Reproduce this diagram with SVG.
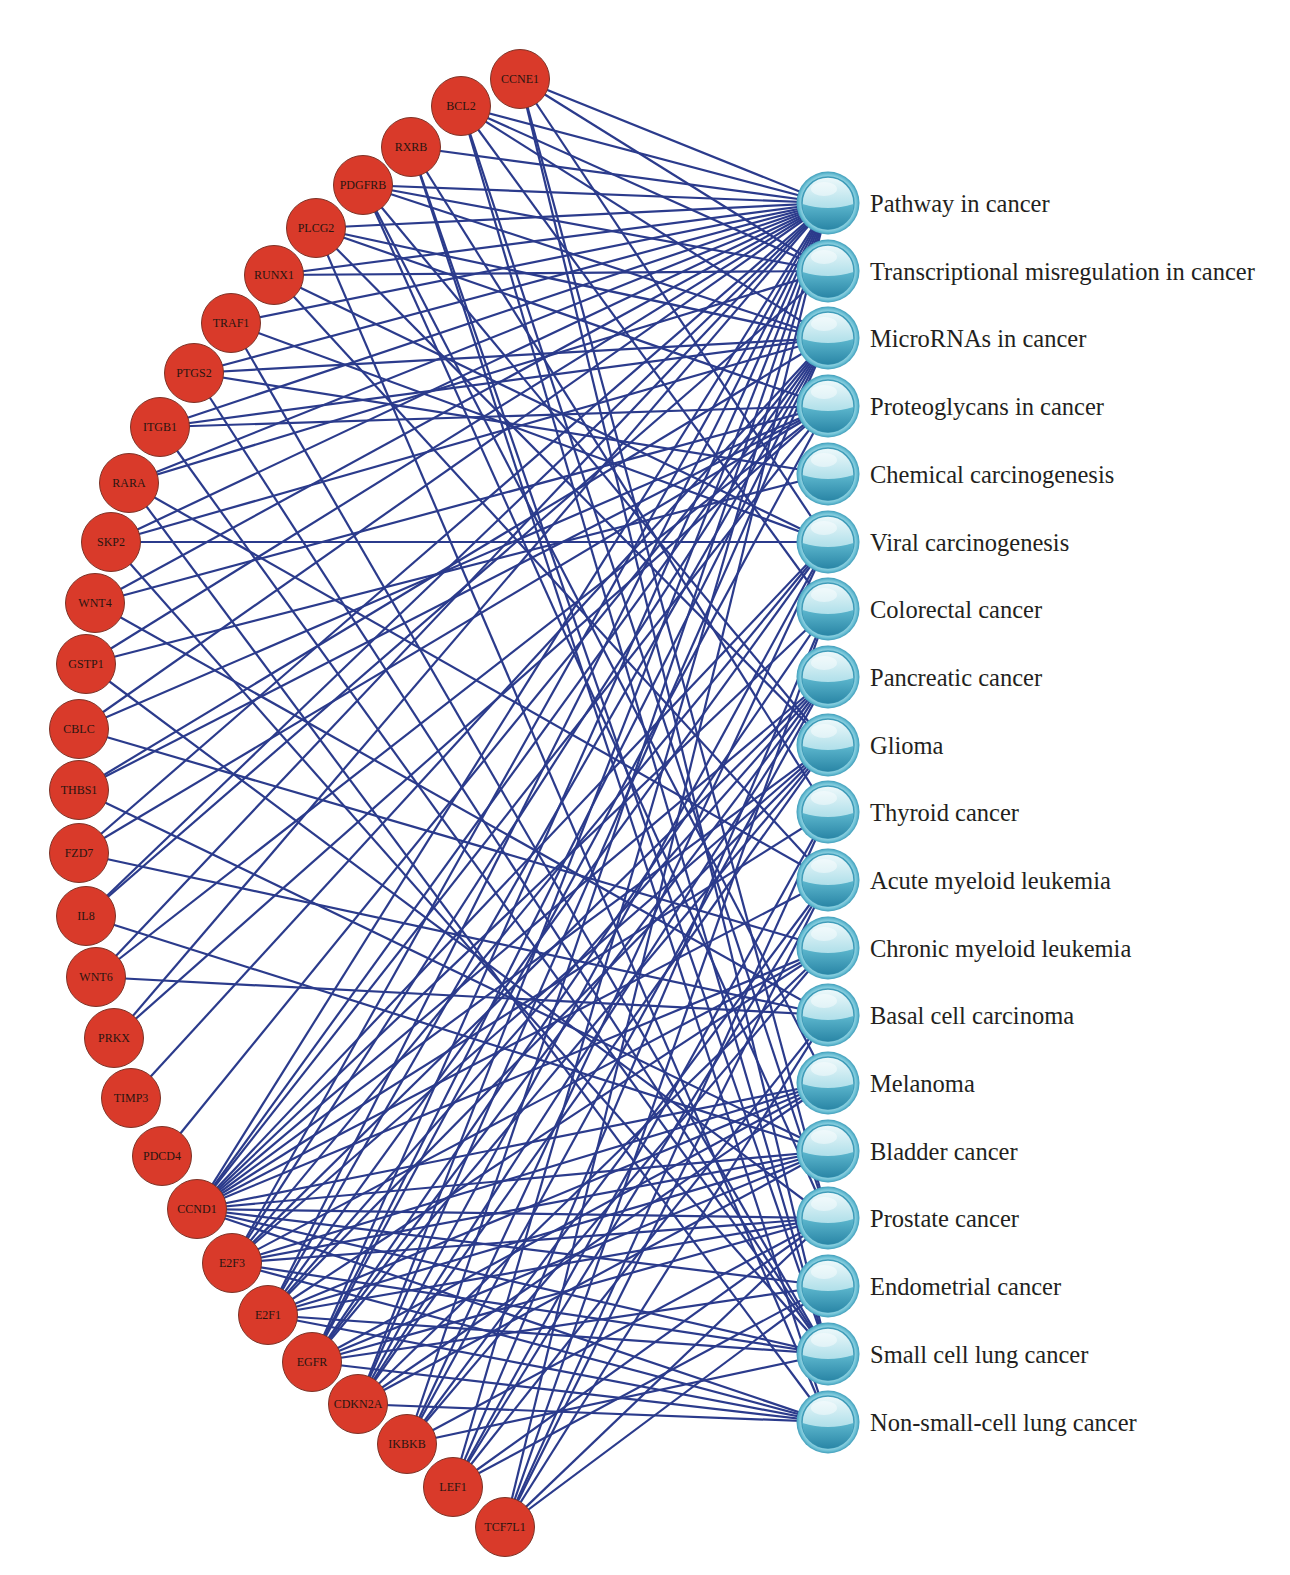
<svg xmlns="http://www.w3.org/2000/svg" xmlns:xlink="http://www.w3.org/1999/xlink" width="1290" height="1575" viewBox="0 0 1290 1575">
<style>
.e{stroke:#2b3b8c;stroke-width:2.2;fill:none}
.g circle{fill:#d93a2a;stroke:#7e3327;stroke-width:1}
.g text{font-family:"Liberation Serif","Times New Roman",serif;font-size:12px;fill:#2a1510;text-anchor:middle}
.p text{font-family:"Liberation Serif","Times New Roman",serif;font-size:24.5px;fill:#231f20}
</style>
<defs>
<linearGradient id="top" x1="0" y1="0" x2="0" y2="1">
<stop offset="0" stop-color="#eef9fb"/>
<stop offset="0.5" stop-color="#b9e3ec"/>
<stop offset="1" stop-color="#8ccfdf"/>
</linearGradient>
<linearGradient id="bot" x1="0" y1="0" x2="0" y2="1">
<stop offset="0" stop-color="#5cb6cd"/>
<stop offset="1" stop-color="#2a86a6"/>
</linearGradient>
<radialGradient id="ring" cx="0.5" cy="0.5" r="0.5">
<stop offset="0.8" stop-color="#a9dde8"/>
<stop offset="0.92" stop-color="#6cc0d5"/>
<stop offset="1" stop-color="#3f9dba"/>
</radialGradient>
<g id="sphere">
<circle r="31.5" fill="url(#ring)"/>
<circle r="26" fill="url(#top)" stroke="#3f9cb9" stroke-width="1.5"/>
<path d="M-25.5,1 A25.5,25.5 0 0 0 25.5,1 Q0,9 -25.5,1 Z" fill="url(#bot)"/>
<ellipse cx="-4" cy="-14" rx="13" ry="7" fill="#ffffff" opacity="0.45"/>
</g>
</defs>
<rect width="1290" height="1575" fill="#ffffff"/>
<g id="connectors">
<line class="e" x1="520" y1="79" x2="828" y2="203"/><line class="e" x1="520" y1="79" x2="828" y2="271"/><line class="e" x1="520" y1="79" x2="828" y2="542"/><line class="e" x1="520" y1="79" x2="828" y2="1218"/><line class="e" x1="520" y1="79" x2="828" y2="1354"/>
<line class="e" x1="461" y1="106" x2="828" y2="203"/><line class="e" x1="461" y1="106" x2="828" y2="271"/><line class="e" x1="461" y1="106" x2="828" y2="338"/><line class="e" x1="461" y1="106" x2="828" y2="609"/><line class="e" x1="461" y1="106" x2="828" y2="1218"/><line class="e" x1="461" y1="106" x2="828" y2="1354"/>
<line class="e" x1="411" y1="147" x2="828" y2="203"/><line class="e" x1="411" y1="147" x2="828" y2="812"/><line class="e" x1="411" y1="147" x2="828" y2="1354"/><line class="e" x1="411" y1="147" x2="828" y2="1422"/>
<line class="e" x1="363" y1="185" x2="828" y2="203"/><line class="e" x1="363" y1="185" x2="828" y2="271"/><line class="e" x1="363" y1="185" x2="828" y2="338"/><line class="e" x1="363" y1="185" x2="828" y2="745"/><line class="e" x1="363" y1="185" x2="828" y2="1083"/><line class="e" x1="363" y1="185" x2="828" y2="1218"/>
<line class="e" x1="316" y1="228" x2="828" y2="203"/><line class="e" x1="316" y1="228" x2="828" y2="338"/><line class="e" x1="316" y1="228" x2="828" y2="406"/><line class="e" x1="316" y1="228" x2="828" y2="745"/><line class="e" x1="316" y1="228" x2="828" y2="1422"/>
<line class="e" x1="274" y1="275" x2="828" y2="203"/><line class="e" x1="274" y1="275" x2="828" y2="271"/><line class="e" x1="274" y1="275" x2="828" y2="542"/><line class="e" x1="274" y1="275" x2="828" y2="880"/>
<line class="e" x1="231" y1="323" x2="828" y2="203"/><line class="e" x1="231" y1="323" x2="828" y2="542"/><line class="e" x1="231" y1="323" x2="828" y2="1354"/>
<line class="e" x1="194" y1="373" x2="828" y2="203"/><line class="e" x1="194" y1="373" x2="828" y2="338"/><line class="e" x1="194" y1="373" x2="828" y2="474"/><line class="e" x1="194" y1="373" x2="828" y2="1354"/>
<line class="e" x1="160" y1="427" x2="828" y2="203"/><line class="e" x1="160" y1="427" x2="828" y2="338"/><line class="e" x1="160" y1="427" x2="828" y2="406"/><line class="e" x1="160" y1="427" x2="828" y2="1354"/>
<line class="e" x1="129" y1="483" x2="828" y2="203"/><line class="e" x1="129" y1="483" x2="828" y2="271"/><line class="e" x1="129" y1="483" x2="828" y2="880"/><line class="e" x1="129" y1="483" x2="828" y2="1422"/>
<line class="e" x1="111" y1="542" x2="828" y2="203"/><line class="e" x1="111" y1="542" x2="828" y2="338"/><line class="e" x1="111" y1="542" x2="828" y2="542"/><line class="e" x1="111" y1="542" x2="828" y2="1354"/>
<line class="e" x1="95" y1="603" x2="828" y2="203"/><line class="e" x1="95" y1="603" x2="828" y2="406"/><line class="e" x1="95" y1="603" x2="828" y2="1015"/>
<line class="e" x1="86" y1="664" x2="828" y2="203"/><line class="e" x1="86" y1="664" x2="828" y2="474"/><line class="e" x1="86" y1="664" x2="828" y2="1218"/>
<line class="e" x1="79" y1="729" x2="828" y2="203"/><line class="e" x1="79" y1="729" x2="828" y2="406"/><line class="e" x1="79" y1="729" x2="828" y2="948"/>
<line class="e" x1="79" y1="790" x2="828" y2="338"/><line class="e" x1="79" y1="790" x2="828" y2="406"/><line class="e" x1="79" y1="790" x2="828" y2="1151"/>
<line class="e" x1="79" y1="853" x2="828" y2="203"/><line class="e" x1="79" y1="853" x2="828" y2="406"/><line class="e" x1="79" y1="853" x2="828" y2="1015"/>
<line class="e" x1="86" y1="916" x2="828" y2="203"/><line class="e" x1="86" y1="916" x2="828" y2="271"/><line class="e" x1="86" y1="916" x2="828" y2="1151"/>
<line class="e" x1="96" y1="977" x2="828" y2="203"/><line class="e" x1="96" y1="977" x2="828" y2="406"/><line class="e" x1="96" y1="977" x2="828" y2="1015"/>
<line class="e" x1="114" y1="1038" x2="828" y2="203"/><line class="e" x1="114" y1="1038" x2="828" y2="406"/>
<line class="e" x1="131" y1="1098" x2="828" y2="338"/>
<line class="e" x1="162" y1="1156" x2="828" y2="338"/>
<line class="e" x1="197" y1="1209" x2="828" y2="203"/><line class="e" x1="197" y1="1209" x2="828" y2="338"/><line class="e" x1="197" y1="1209" x2="828" y2="406"/><line class="e" x1="197" y1="1209" x2="828" y2="542"/><line class="e" x1="197" y1="1209" x2="828" y2="609"/><line class="e" x1="197" y1="1209" x2="828" y2="677"/><line class="e" x1="197" y1="1209" x2="828" y2="745"/><line class="e" x1="197" y1="1209" x2="828" y2="812"/><line class="e" x1="197" y1="1209" x2="828" y2="880"/><line class="e" x1="197" y1="1209" x2="828" y2="948"/><line class="e" x1="197" y1="1209" x2="828" y2="1083"/><line class="e" x1="197" y1="1209" x2="828" y2="1151"/><line class="e" x1="197" y1="1209" x2="828" y2="1218"/><line class="e" x1="197" y1="1209" x2="828" y2="1286"/><line class="e" x1="197" y1="1209" x2="828" y2="1354"/><line class="e" x1="197" y1="1209" x2="828" y2="1422"/>
<line class="e" x1="232" y1="1263" x2="828" y2="203"/><line class="e" x1="232" y1="1263" x2="828" y2="338"/><line class="e" x1="232" y1="1263" x2="828" y2="542"/><line class="e" x1="232" y1="1263" x2="828" y2="677"/><line class="e" x1="232" y1="1263" x2="828" y2="745"/><line class="e" x1="232" y1="1263" x2="828" y2="948"/><line class="e" x1="232" y1="1263" x2="828" y2="1083"/><line class="e" x1="232" y1="1263" x2="828" y2="1151"/><line class="e" x1="232" y1="1263" x2="828" y2="1218"/><line class="e" x1="232" y1="1263" x2="828" y2="1354"/><line class="e" x1="232" y1="1263" x2="828" y2="1422"/>
<line class="e" x1="268" y1="1315" x2="828" y2="203"/><line class="e" x1="268" y1="1315" x2="828" y2="338"/><line class="e" x1="268" y1="1315" x2="828" y2="542"/><line class="e" x1="268" y1="1315" x2="828" y2="677"/><line class="e" x1="268" y1="1315" x2="828" y2="745"/><line class="e" x1="268" y1="1315" x2="828" y2="948"/><line class="e" x1="268" y1="1315" x2="828" y2="1083"/><line class="e" x1="268" y1="1315" x2="828" y2="1151"/><line class="e" x1="268" y1="1315" x2="828" y2="1218"/><line class="e" x1="268" y1="1315" x2="828" y2="1354"/><line class="e" x1="268" y1="1315" x2="828" y2="1422"/>
<line class="e" x1="312" y1="1362" x2="828" y2="203"/><line class="e" x1="312" y1="1362" x2="828" y2="338"/><line class="e" x1="312" y1="1362" x2="828" y2="406"/><line class="e" x1="312" y1="1362" x2="828" y2="609"/><line class="e" x1="312" y1="1362" x2="828" y2="677"/><line class="e" x1="312" y1="1362" x2="828" y2="745"/><line class="e" x1="312" y1="1362" x2="828" y2="1083"/><line class="e" x1="312" y1="1362" x2="828" y2="1151"/><line class="e" x1="312" y1="1362" x2="828" y2="1218"/><line class="e" x1="312" y1="1362" x2="828" y2="1286"/><line class="e" x1="312" y1="1362" x2="828" y2="1422"/>
<line class="e" x1="358" y1="1404" x2="828" y2="203"/><line class="e" x1="358" y1="1404" x2="828" y2="338"/><line class="e" x1="358" y1="1404" x2="828" y2="542"/><line class="e" x1="358" y1="1404" x2="828" y2="677"/><line class="e" x1="358" y1="1404" x2="828" y2="745"/><line class="e" x1="358" y1="1404" x2="828" y2="948"/><line class="e" x1="358" y1="1404" x2="828" y2="1083"/><line class="e" x1="358" y1="1404" x2="828" y2="1151"/><line class="e" x1="358" y1="1404" x2="828" y2="1422"/>
<line class="e" x1="407" y1="1444" x2="828" y2="203"/><line class="e" x1="407" y1="1444" x2="828" y2="542"/><line class="e" x1="407" y1="1444" x2="828" y2="677"/><line class="e" x1="407" y1="1444" x2="828" y2="880"/><line class="e" x1="407" y1="1444" x2="828" y2="948"/><line class="e" x1="407" y1="1444" x2="828" y2="1218"/><line class="e" x1="407" y1="1444" x2="828" y2="1354"/>
<line class="e" x1="453" y1="1487" x2="828" y2="203"/><line class="e" x1="453" y1="1487" x2="828" y2="609"/><line class="e" x1="453" y1="1487" x2="828" y2="812"/><line class="e" x1="453" y1="1487" x2="828" y2="880"/><line class="e" x1="453" y1="1487" x2="828" y2="1015"/><line class="e" x1="453" y1="1487" x2="828" y2="1218"/><line class="e" x1="453" y1="1487" x2="828" y2="1286"/>
<line class="e" x1="505" y1="1527" x2="828" y2="203"/><line class="e" x1="505" y1="1527" x2="828" y2="609"/><line class="e" x1="505" y1="1527" x2="828" y2="812"/><line class="e" x1="505" y1="1527" x2="828" y2="880"/><line class="e" x1="505" y1="1527" x2="828" y2="1015"/><line class="e" x1="505" y1="1527" x2="828" y2="1218"/><line class="e" x1="505" y1="1527" x2="828" y2="1286"/>
</g>
<g id="genes">
<g id="n-CCNE1" class="g"><circle cx="520" cy="79" r="29.5"/><text x="520" y="83">CCNE1</text></g>
<g id="n-BCL2" class="g"><circle cx="461" cy="106" r="29.5"/><text x="461" y="110">BCL2</text></g>
<g id="n-RXRB" class="g"><circle cx="411" cy="147" r="29.5"/><text x="411" y="151">RXRB</text></g>
<g id="n-PDGFRB" class="g"><circle cx="363" cy="185" r="29.5"/><text x="363" y="189">PDGFRB</text></g>
<g id="n-PLCG2" class="g"><circle cx="316" cy="228" r="29.5"/><text x="316" y="232">PLCG2</text></g>
<g id="n-RUNX1" class="g"><circle cx="274" cy="275" r="29.5"/><text x="274" y="279">RUNX1</text></g>
<g id="n-TRAF1" class="g"><circle cx="231" cy="323" r="29.5"/><text x="231" y="327">TRAF1</text></g>
<g id="n-PTGS2" class="g"><circle cx="194" cy="373" r="29.5"/><text x="194" y="377">PTGS2</text></g>
<g id="n-ITGB1" class="g"><circle cx="160" cy="427" r="29.5"/><text x="160" y="431">ITGB1</text></g>
<g id="n-RARA" class="g"><circle cx="129" cy="483" r="29.5"/><text x="129" y="487">RARA</text></g>
<g id="n-SKP2" class="g"><circle cx="111" cy="542" r="29.5"/><text x="111" y="546">SKP2</text></g>
<g id="n-WNT4" class="g"><circle cx="95" cy="603" r="29.5"/><text x="95" y="607">WNT4</text></g>
<g id="n-GSTP1" class="g"><circle cx="86" cy="664" r="29.5"/><text x="86" y="668">GSTP1</text></g>
<g id="n-CBLC" class="g"><circle cx="79" cy="729" r="29.5"/><text x="79" y="733">CBLC</text></g>
<g id="n-THBS1" class="g"><circle cx="79" cy="790" r="29.5"/><text x="79" y="794">THBS1</text></g>
<g id="n-FZD7" class="g"><circle cx="79" cy="853" r="29.5"/><text x="79" y="857">FZD7</text></g>
<g id="n-IL8" class="g"><circle cx="86" cy="916" r="29.5"/><text x="86" y="920">IL8</text></g>
<g id="n-WNT6" class="g"><circle cx="96" cy="977" r="29.5"/><text x="96" y="981">WNT6</text></g>
<g id="n-PRKX" class="g"><circle cx="114" cy="1038" r="29.5"/><text x="114" y="1042">PRKX</text></g>
<g id="n-TIMP3" class="g"><circle cx="131" cy="1098" r="29.5"/><text x="131" y="1102">TIMP3</text></g>
<g id="n-PDCD4" class="g"><circle cx="162" cy="1156" r="29.5"/><text x="162" y="1160">PDCD4</text></g>
<g id="n-CCND1" class="g"><circle cx="197" cy="1209" r="29.5"/><text x="197" y="1213">CCND1</text></g>
<g id="n-E2F3" class="g"><circle cx="232" cy="1263" r="29.5"/><text x="232" y="1267">E2F3</text></g>
<g id="n-E2F1" class="g"><circle cx="268" cy="1315" r="29.5"/><text x="268" y="1319">E2F1</text></g>
<g id="n-EGFR" class="g"><circle cx="312" cy="1362" r="29.5"/><text x="312" y="1366">EGFR</text></g>
<g id="n-CDKN2A" class="g"><circle cx="358" cy="1404" r="29.5"/><text x="358" y="1408">CDKN2A</text></g>
<g id="n-IKBKB" class="g"><circle cx="407" cy="1444" r="29.5"/><text x="407" y="1448">IKBKB</text></g>
<g id="n-LEF1" class="g"><circle cx="453" cy="1487" r="29.5"/><text x="453" y="1491">LEF1</text></g>
<g id="n-TCF7L1" class="g"><circle cx="505" cy="1527" r="29.5"/><text x="505" y="1531">TCF7L1</text></g>
</g>
<g id="pathways">
<g id="p0" class="p"><use xlink:href="#sphere" href="#sphere" transform="translate(828,203)"/><text x="870" y="212">Pathway in cancer</text></g>
<g id="p1" class="p"><use xlink:href="#sphere" href="#sphere" transform="translate(828,271)"/><text x="870" y="280">Transcriptional misregulation in cancer</text></g>
<g id="p2" class="p"><use xlink:href="#sphere" href="#sphere" transform="translate(828,338)"/><text x="870" y="347">MicroRNAs in cancer</text></g>
<g id="p3" class="p"><use xlink:href="#sphere" href="#sphere" transform="translate(828,406)"/><text x="870" y="415">Proteoglycans in cancer</text></g>
<g id="p4" class="p"><use xlink:href="#sphere" href="#sphere" transform="translate(828,474)"/><text x="870" y="483">Chemical carcinogenesis</text></g>
<g id="p5" class="p"><use xlink:href="#sphere" href="#sphere" transform="translate(828,542)"/><text x="870" y="551">Viral carcinogenesis</text></g>
<g id="p6" class="p"><use xlink:href="#sphere" href="#sphere" transform="translate(828,609)"/><text x="870" y="618">Colorectal cancer</text></g>
<g id="p7" class="p"><use xlink:href="#sphere" href="#sphere" transform="translate(828,677)"/><text x="870" y="686">Pancreatic cancer</text></g>
<g id="p8" class="p"><use xlink:href="#sphere" href="#sphere" transform="translate(828,745)"/><text x="870" y="754">Glioma</text></g>
<g id="p9" class="p"><use xlink:href="#sphere" href="#sphere" transform="translate(828,812)"/><text x="870" y="821">Thyroid cancer</text></g>
<g id="p10" class="p"><use xlink:href="#sphere" href="#sphere" transform="translate(828,880)"/><text x="870" y="889">Acute myeloid leukemia</text></g>
<g id="p11" class="p"><use xlink:href="#sphere" href="#sphere" transform="translate(828,948)"/><text x="870" y="957">Chronic myeloid leukemia</text></g>
<g id="p12" class="p"><use xlink:href="#sphere" href="#sphere" transform="translate(828,1015)"/><text x="870" y="1024">Basal cell carcinoma</text></g>
<g id="p13" class="p"><use xlink:href="#sphere" href="#sphere" transform="translate(828,1083)"/><text x="870" y="1092">Melanoma</text></g>
<g id="p14" class="p"><use xlink:href="#sphere" href="#sphere" transform="translate(828,1151)"/><text x="870" y="1160">Bladder cancer</text></g>
<g id="p15" class="p"><use xlink:href="#sphere" href="#sphere" transform="translate(828,1218)"/><text x="870" y="1227">Prostate cancer</text></g>
<g id="p16" class="p"><use xlink:href="#sphere" href="#sphere" transform="translate(828,1286)"/><text x="870" y="1295">Endometrial cancer</text></g>
<g id="p17" class="p"><use xlink:href="#sphere" href="#sphere" transform="translate(828,1354)"/><text x="870" y="1363">Small cell lung cancer</text></g>
<g id="p18" class="p"><use xlink:href="#sphere" href="#sphere" transform="translate(828,1422)"/><text x="870" y="1431">Non-small-cell lung cancer</text></g>
</g>
</svg>
